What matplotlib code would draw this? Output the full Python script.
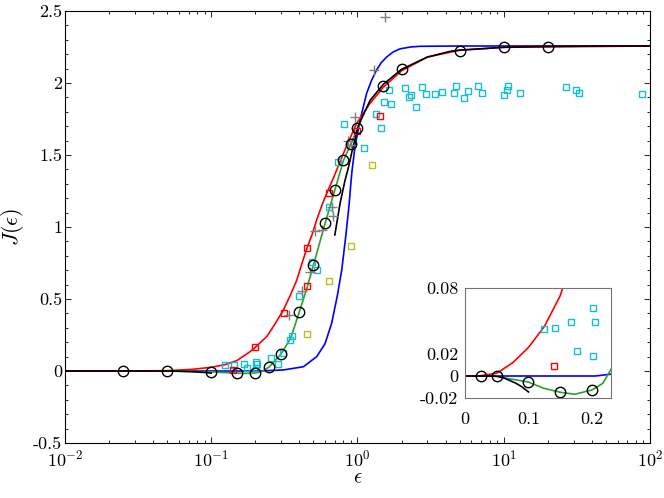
import matplotlib
matplotlib.use('Agg')
import matplotlib.pyplot as plt
from matplotlib.ticker import LogLocator, MultipleLocator, NullFormatter
import numpy as np

plt.rcParams['font.family'] = 'serif'
plt.rcParams['font.serif'] = ['cmr10']
plt.rcParams['mathtext.fontset'] = 'cm'
plt.rcParams['axes.unicode_minus'] = False
plt.rcParams['axes.formatter.use_mathtext'] = True

# curves
eps_blue = [0.001, 0.01, 0.1, 0.205, 0.31, 0.427, 0.526, 0.60, 0.665, 0.727, 0.78, 0.83, 0.875,
            0.895, 0.915, 0.962, 1.04, 1.156, 1.25, 1.35, 1.45, 1.58, 1.75, 1.95, 2.3, 2.68,
            5, 10, 100]
J_blue = [0, 0, 0, 0, 0.007, 0.03, 0.10, 0.19, 0.33, 0.52, 0.70, 0.93, 1.15,
          1.27, 1.38, 1.56, 1.74, 1.93, 2.02, 2.09, 2.14, 2.18, 2.215, 2.237, 2.25, 2.255,
          2.257, 2.257, 2.257]

eps_red = [0.001, 0.01, 0.025, 0.05, 0.075, 0.1, 0.125, 0.15, 0.184, 0.2, 0.24, 0.27, 0.31,
           0.345, 0.384, 0.415, 0.45, 0.49, 0.526, 0.575, 0.63, 0.684, 0.8, 0.986, 1.22, 1.5,
           2.0, 3.0, 5, 10, 100]
J_red = [0, 0, 0.0003, 0.0025, 0.012, 0.026, 0.045, 0.073, 0.134, 0.165, 0.24, 0.32, 0.42,
         0.52, 0.63, 0.74, 0.85, 0.95, 1.05, 1.16, 1.257, 1.34, 1.51, 1.72, 1.86, 1.97,
         2.085, 2.18, 2.228, 2.248, 2.257]

eps_green = [0.05, 0.06, 0.08, 0.1, 0.123, 0.15, 0.173, 0.2, 0.217, 0.23, 0.25, 0.3, 0.35,
             0.4, 0.45, 0.5, 0.6, 0.7, 0.8, 0.9, 1.0, 1.05]
J_green = [0, -0.0015, -0.0035, -0.0055, -0.011, -0.0148, -0.0166, -0.0127, -0.0067, 0.006,
           0.03, 0.118, 0.23, 0.41, 0.574, 0.736, 1.025, 1.257, 1.46, 1.576, 1.685, 1.73]

eps_black_lo = [0.001, 0.01, 0.03, 0.05, 0.06, 0.07, 0.08, 0.09, 0.1]
J_black_lo = [0, 0, 0, -0.0003, -0.0015, -0.004, -0.0065, -0.010, -0.0145]

eps_black_hi = [0.70, 0.76, 0.82, 0.87, 0.91, 1.01, 1.22, 1.5, 2.0, 3.0, 4.3, 5, 10, 20, 50, 100]
J_black_hi = [0.945, 1.165, 1.32, 1.42, 1.51, 1.70, 1.88, 1.99, 2.095, 2.18, 2.22, 2.228,
              2.248, 2.254, 2.257, 2.257]

# markers
eps_circ = [0.025, 0.05, 0.1, 0.15, 0.2, 0.25, 0.3, 0.4, 0.5, 0.6, 0.7, 0.8, 0.9, 1.0,
            1.5, 2, 5, 10, 20]
J_circ = [0.0, -0.0003, -0.0052, -0.0148, -0.0127, 0.03, 0.118, 0.41, 0.736, 1.025, 1.257,
          1.465, 1.576, 1.685, 1.98, 2.095, 2.224, 2.248, 2.252]

eps_plus = [0.342, 0.418, 0.47, 0.512, 0.569, 0.665, 0.684, 0.865, 0.905, 0.96, 1.30, 1.54]
J_plus = [0.39, 0.555, 0.69, 0.974, 0.976, 1.137, 1.076, 1.60, 1.57, 1.765, 2.09, 2.455]

eps_rsq = [0.14, 0.20, 0.316, 0.45, 0.45, 0.635, 1.0, 1.425]
J_rsq = [0.0094, 0.169, 0.40, 0.59, 0.852, 1.234, 1.667, 1.773]

eps_ysq = [0.45, 0.635, 0.898, 1.26]
J_ysq = [0.26, 0.627, 0.868, 1.43]

eps_csq = [0.1245, 0.1424, 0.1664, 0.176, 0.201, 0.205, 0.202, 0.255, 0.287, 0.311, 0.345,
           0.358, 0.40, 0.488, 0.526, 0.64, 0.733, 0.809, 1.107, 1.34, 1.44, 1.52, 1.65,
           1.69, 2.12, 2.25, 2.33, 2.51, 2.77, 2.94, 3.37, 3.77, 4.57, 4.69, 5.32, 5.67,
           6.70, 7.13, 10.0, 10.5, 10.7, 12.9, 26.7, 31.2, 32.7, 87.7]
J_csq = [0.0427, 0.0439, 0.049, 0.023, 0.062, 0.049, 0.018, 0.09, 0.046, 0.127, 0.215,
         0.245, 0.523, 0.759, 0.70, 1.141, 1.451, 1.715, 1.549, 1.785, 1.685, 1.866, 1.951,
         1.856, 1.965, 1.905, 1.917, 1.835, 1.974, 1.926, 1.924, 1.94, 1.928, 1.977, 1.898,
         1.946, 1.981, 1.933, 1.914, 1.949, 1.979, 1.931, 1.974, 1.953, 1.933, 1.924]

c_cyan = '#17becf'
c_olive = '#bcbd22'
c_gray = '#7f7f7f'
c_green = '#2ca02c'


def draw(ax):
    ax.plot(eps_blue, J_blue, color='b', lw=1.2)
    ax.plot(eps_red, J_red, color='r', lw=1.2)
    ax.plot(eps_green, J_green, color=c_green, lw=1.2)
    ax.plot(eps_black_lo, J_black_lo, color='k', lw=1.2)
    ax.plot(eps_black_hi, J_black_hi, color='k', lw=1.2)
    sq = dict(ls='none', marker='s', ms=4.5, mfc='none', mew=1.0)
    ax.plot(eps_csq, J_csq, mec=c_cyan, **sq)
    ax.plot(eps_ysq, J_ysq, mec=c_olive, **sq)
    ax.plot(eps_rsq, J_rsq, mec='r', **sq)
    ax.plot(eps_plus, J_plus, ls='none', marker='+', ms=7, color=c_gray, mew=1.0)
    ax.plot(eps_circ, J_circ, ls='none', marker='o', ms=7.5, mfc='none', mec='k', mew=1.0)


fig = plt.figure(figsize=(6.64, 4.98), dpi=100)
ax = fig.add_axes([0.0979, 0.1104, 0.881, 0.8675])
draw(ax)
ax.set_xscale('log')
ax.set_xlim(1e-2, 1e2)
ax.set_ylim(-0.5, 2.5)
ax.set_yticks([-0.5, 0, 0.5, 1, 1.5, 2, 2.5])
ax.set_yticklabels(['-0.5', '0', '0.5', '1', '1.5', '2', '2.5'])
ax.yaxis.set_minor_locator(MultipleLocator(0.1))
ax.xaxis.set_major_locator(LogLocator(base=10, numticks=10))
ax.xaxis.set_minor_locator(LogLocator(base=10, subs=np.arange(2, 10), numticks=20))
ax.xaxis.set_minor_formatter(NullFormatter())
ax.tick_params(which='both', direction='in', top=True, right=True, labelsize=13)
ax.tick_params(which='major', length=4.5, width=0.6)
ax.tick_params(which='minor', length=2.5, width=0.6)
ax.tick_params(axis='x', pad=4)
ax.tick_params(axis='y', pad=2)
for s in ax.spines.values():
    s.set_linewidth(0.8)
ax.set_xlabel(r'$\epsilon$', fontsize=15)
ax.set_ylabel(r'$J(\epsilon)$', fontsize=16)
ax.xaxis.set_label_coords(0.5, -0.062)
ax.yaxis.set_label_coords(-0.066, 0.5)

axi = fig.add_axes([0.7003, 0.2008, 0.2199, 0.2209])
draw(axi)
axi.set_xlim(0, 0.23)
axi.set_ylim(-0.02, 0.08)
axi.set_xticks([0, 0.1, 0.2])
axi.set_xticklabels(['0', '0.1', '0.2'])
axi.set_yticks([-0.02, 0, 0.02, 0.08])
axi.set_yticklabels(['-0.02', '0', '0.02', '0.08'])
axi.tick_params(direction='in', length=0, labelsize=13)
axi.tick_params(axis='x', pad=10)
axi.tick_params(axis='y', pad=5)
for s in axi.spines.values():
    s.set_color('0.45')
    s.set_linewidth(0.8)

fig.savefig('out.png', dpi=100)
